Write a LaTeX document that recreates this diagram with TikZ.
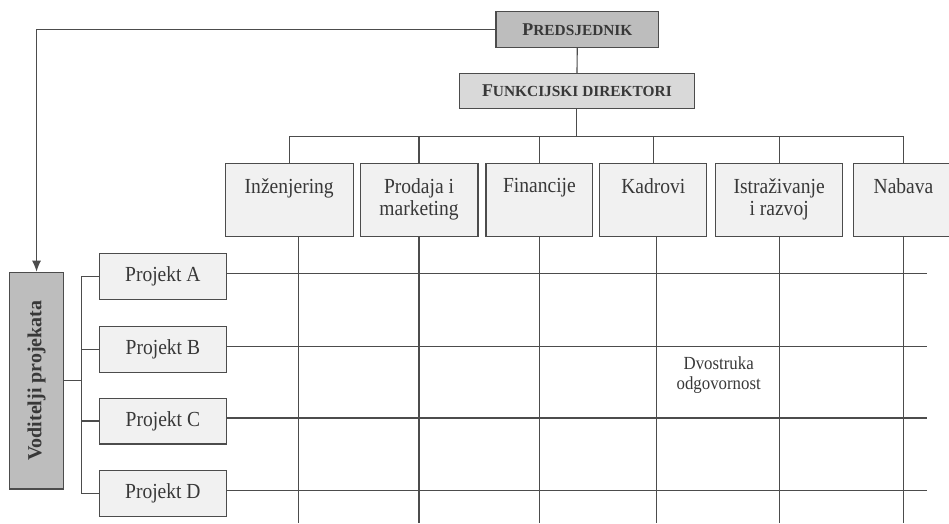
\documentclass[tikz,border=0pt]{standalone}
\usepackage{fontspec}
\setmainfont{Liberation Serif}
\newfontfamily\condserif{Liberation Serif}[FakeStretch=0.91]
\usetikzlibrary{arrows.meta}
\definecolor{ln}{gray}{0.30}
\definecolor{tx}{gray}{0.22}
\definecolor{darkfill}{gray}{0.74}
\definecolor{midfill}{gray}{0.85}
\definecolor{lightfill}{gray}{0.945}
\newcommand{\bigsc}[1]{{\fontsize{18}{20}\selectfont #1}}
\newcommand{\smsc}[1]{{\fontsize{15.4}{18}\selectfont #1}}
\begin{document}
\begin{tikzpicture}[x=1pt,y=-1pt,
  every path/.style={draw=ln,line width=1.15pt},
  box/.style={draw=ln,line width=1.15pt,rectangle,inner sep=0pt,text=tx},
  topbox/.style={box,fill=darkfill,font=\bfseries},
  deptbox/.style={box,fill=lightfill,minimum height=73pt},
  projbox/.style={box,fill=lightfill,minimum width=127pt,minimum height=46pt,font=\condserif\fontsize{21.5}{22}\selectfont},
  dlabel/.style={anchor=north,inner sep=0pt,yshift=-15pt,align=center,text=tx,font=\condserif\fontsize{21.5}{22}\selectfont},
  note/.style={inner sep=0pt,align=center,text=tx,font=\condserif\fontsize{18.5}{20}\selectfont}
]
\useasboundingbox (0,0) rectangle (949,523);
\fill[white] (0,0) rectangle (949,523);

% top boxes
\node[topbox,minimum width=163pt,minimum height=36pt] (pred) at (577.5,29) {\bigsc{P}\smsc{REDSJEDNIK}};
\node[topbox,fill=midfill,minimum width=235pt,minimum height=35pt] (fd) at (577,90.5) {\bigsc{F}\smsc{UNKCIJSKI DIREKTORI}};

% departments
\node[deptbox,minimum width=128pt,label={[dlabel]north:Inženjering}] (ing) at (289,199.5) {};
\node[deptbox,minimum width=118pt,label={[dlabel]north:Prodaja i\\marketing}] (pro) at (419,199.5) {};
\node[deptbox,minimum width=107pt,label={[dlabel]north:Financije}] (fin) at (539.5,199.5) {};
\node[deptbox,minimum width=107pt,label={[dlabel]north:Kadrovi}] (kad) at (653.5,199.5) {};
\node[deptbox,minimum width=127pt,label={[dlabel]north:Istraživanje\\i razvoj}] (ist) at (779.5,199.5) {};
\node[deptbox,minimum width=100pt,label={[dlabel]north:Nabava}] (nab) at (904,199.5) {};

% project manager
\node[topbox,minimum width=54pt,minimum height=217pt] (vod) at (36,380.5) {};
\node[text=tx,font=\fontsize{20}{22}\selectfont\bfseries,rotate=90,inner sep=0pt] (vodt) at (vod.center) {Voditelji projekata};

% projects
\node[projbox] (pA) at (162.5,276.5) {Projekt A};
\node[projbox] (pB) at (162.5,349.5) {Projekt B};
\node[projbox] (pC) at (162.5,421) {Projekt C};
\node[projbox] (pD) at (162.5,493.5) {Projekt D};

\node[note,anchor=north] (dvo) at (719,356) {Dvostruka\\odgovornost};

% coordinates
\coordinate (bus) at (577,136);
\coordinate (lb) at (81,0);
\coordinate (rend) at (928,0);
\coordinate (bottom) at (0,523);

% connectors top
\draw (pred) -- (fd);
\draw (fd.south) -- (bus);
\draw (ing.north) |- (bus) -| (nab.north);
\draw (pro.north) -- (pro.north |- bus);
\draw (fin.north) -- (fin.north |- bus);
\draw (kad.north) -- (kad.north |- bus);
\draw (ist.north) -- (ist.north |- bus);

% arrow to project managers
\draw[-{Latex[length=11pt,width=9pt]}] (pred.west) -| (vod.north);

% left bus
\draw (vod.east) -- (vod.east -| lb);
\draw (pA.west) -- (pA.west -| lb) -- (pD.west -| lb) -- (pD.west);
\draw (pB.west) -- (pB.west -| lb);
\draw (pC.west) -- (pC.west -| lb);

% matrix lines
\draw ([xshift=9pt]ing.south) -- ([xshift=9pt]ing.south |- bottom);
\draw (pro.south) -- (pro.south |- bottom);
\draw (fin.south) -- (fin.south |- bottom);
\draw ([xshift=3pt]kad.south) -- ([xshift=3pt]kad.south |- bottom);
\draw (ist.south) -- (ist.south |- bottom);
\draw (nab.south) -- (nab.south |- bottom);

\draw ([yshift=3pt]pA.east) -- ([yshift=3pt]pA.east -| rend);
\draw ([yshift=3pt]pB.east) -- ([yshift=3pt]pB.east -| rend);
\draw ([yshift=3pt]pC.east) -- ([yshift=3pt]pC.east -| rend);
\draw ([yshift=3pt]pD.east) -- ([yshift=3pt]pD.east -| rend);
\end{tikzpicture}
\end{document}
